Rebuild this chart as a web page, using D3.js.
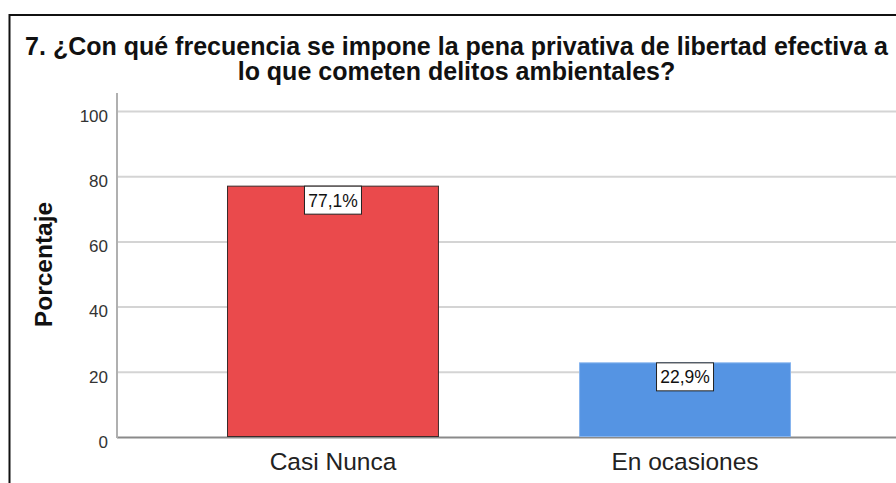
<!DOCTYPE html>
<html>
<head>
<meta charset="utf-8">
<script src="https://cdn.jsdelivr.net/npm/d3@7"></script>
<style>
  body { margin: 0; background: #fff; }
  text { font-family: "Liberation Sans", Arial, sans-serif; }
</style>
</head>
<body>
<div id="chart"></div>
<script>
//////////////////////////////////////////////////////////////////////////////
// Data

var categories = ["Casi Nunca", "En ocasiones"];
var percents   = [77.1, 22.9];
var valueLabels = ["77,1%", "22,9%"];
var barColors  = ["#ea4a4c", "#5594e3"];
var barStrokes = ["#3a2a2a", "#86b4ee"];
var yTicks     = [0, 20, 40, 60, 80, 100];
var titleLines = ["7. ¿Con qué frecuencia se impone la pena privativa de libertad efectiva a",
                  "lo que cometen delitos ambientales?"];

//////////////////////////////////////////////////////////////////////////////
// Globals

var width = 896, height = 483;
var plotLeft = 117, plotRight = 901;
var plotTop = 111, plotBottom = 437;

var xScale = d3.scaleBand()
    .domain(categories)
    .range([plotLeft, plotRight])
    .paddingInner(0.398)
    .paddingOuter(0.3125);

var yScale = d3.scaleLinear().domain([0, 100]).range([plotBottom, plotTop]);

var data = categories.map(function(c, i) {
    return { cat: c, val: percents[i], label: valueLabels[i], fill: barColors[i], stroke: barStrokes[i] };
});

var svg = d3.select("#chart")
    .append("svg")
    .attr("width", width)
    .attr("height", height);

// outer frame (cut at right / bottom)
svg.append("path")
    .attr("d", "M9.5," + height + " L9.5,15 L" + width + ",15")
    .attr("fill", "none")
    .attr("stroke", "#111")
    .attr("stroke-width", 2);

// title
svg.append("g")
    .selectAll("text")
    .data(titleLines)
    .enter()
    .append("text")
    .attr("x", 456.5)
    .attr("y", function(d, i) { return 55 + i * 24.5; })
    .attr("text-anchor", "middle")
    .attr("font-size", 25)
    .attr("font-weight", "bold")
    .attr("fill", "#111")
    .text(function(d) { return d; });

// y axis with grid
var yAxis = d3.axisLeft(yScale)
    .tickValues(yTicks)
    .tickSizeInner(-(width - plotLeft))
    .tickSizeOuter(0)
    .tickPadding(9);

var gy = svg.append("g")
    .attr("transform", "translate(" + plotLeft + ",0)")
    .call(yAxis);

gy.select(".domain").remove();
gy.selectAll(".tick line")
    .attr("stroke", function(d) { return d === 0 ? "#8a8a8a" : "#d4d4d4"; })
    .attr("stroke-width", 2);
gy.selectAll(".tick text")
    .attr("font-size", 17)
    .attr("fill", "#333")
    .attr("font-family", "Liberation Sans, Arial, sans-serif")
    .attr("dy", "0.6em");

// y axis line
svg.append("line")
    .attr("x1", plotLeft).attr("x2", plotLeft)
    .attr("y1", 93).attr("y2", plotBottom + 1)
    .attr("stroke", "#b0b0b0")
    .attr("stroke-width", 2);

// y label
svg.append("text")
    .attr("transform", "translate(52,264.5) rotate(-90)")
    .attr("text-anchor", "middle")
    .attr("font-size", 24.5)
    .attr("font-weight", "bold")
    .attr("fill", "#111")
    .text("Porcentaje");

// bars
svg.append("g")
    .selectAll("rect")
    .data(data)
    .enter()
    .append("rect")
    .attr("x", function(d) { return xScale(d.cat) + 0.5; })
    .attr("y", function(d) { return yScale(d.val) + 0.5; })
    .attr("width", xScale.bandwidth() - 1)
    .attr("height", function(d) { return plotBottom - yScale(d.val) - 1; })
    .attr("fill", function(d) { return d.fill; })
    .attr("stroke", function(d) { return d.stroke; })
    .attr("stroke-width", 1);

// value labels
var lab = svg.append("g")
    .selectAll("g")
    .data(data)
    .enter()
    .append("g")
    .attr("transform", function(d) {
        return "translate(" + (xScale(d.cat) + xScale.bandwidth() / 2) + "," + yScale(d.val) + ")";
    });

lab.append("rect")
    .attr("x", -28.5)
    .attr("y", 0.5)
    .attr("width", 57)
    .attr("height", 28)
    .attr("fill", "#fff")
    .attr("stroke", "#222")
    .attr("stroke-width", 1);

lab.append("text")
    .attr("y", 21)
    .attr("text-anchor", "middle")
    .attr("font-size", 17.5)
    .attr("fill", "#111")
    .text(function(d) { return d.label; });

// category labels
svg.append("g")
    .selectAll("text")
    .data(categories)
    .enter()
    .append("text")
    .attr("x", function(d) { return xScale(d) + xScale.bandwidth() / 2; })
    .attr("y", 470)
    .attr("text-anchor", "middle")
    .attr("font-size", 24.5)
    .attr("fill", "#222")
    .text(function(d) { return d; });
</script>
</body>
</html>
